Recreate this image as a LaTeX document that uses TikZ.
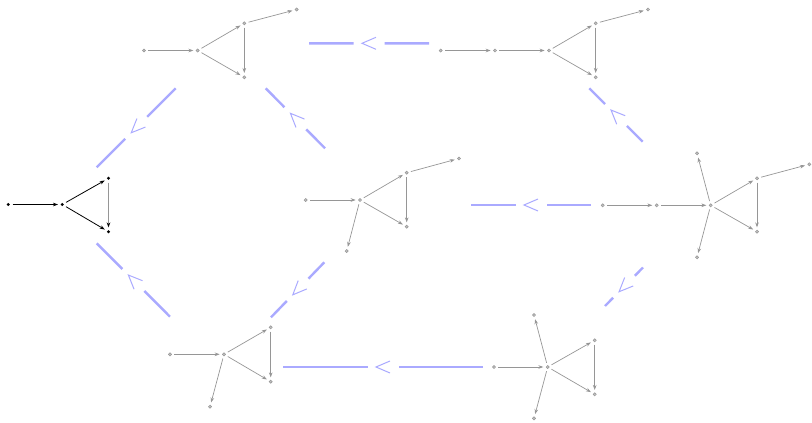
\documentclass[tikz,border=0pt]{standalone}
\usetikzlibrary{calc,arrows.meta}
\definecolor{extblue}{RGB}{170,170,255}
\definecolor{edgegray}{RGB}{150,150,150}
\tikzset{
  gv/.style={circle,inner sep=0pt,minimum size=3.2pt,draw=edgegray,fill=edgegray!60,line width=0.5pt},
  bv/.style={circle,inner sep=0pt,minimum size=3.2pt,fill=black},
  ge/.style={draw=edgegray,line width=0.7pt,-{Stealth[length=5pt,width=3.6pt]},shorten >=2.5pt,shorten <=2.5pt},
  be/.style={draw=black,line width=0.8pt,-{Stealth[length=5pt,width=3.6pt]},shorten >=2.5pt,shorten <=2.5pt},
  bge/.style={draw=edgegray,line width=1.6pt,-{Stealth[length=5pt,width=3.6pt,black]},shorten >=2.5pt,shorten <=2.5pt},
  extline/.style={draw=extblue,line width=2.4pt},
  extchev/.style={draw=extblue,line width=1pt,line join=miter},
}
\newcommand{\extarrow}[2]{%
  \coordinate (mid) at ($(#1)!0.5!(#2)$);
  \draw[extline] (#1) -- ($(mid)!15.5pt!(#1)$);
  \draw[extline] (#2) -- ($(mid)!15.5pt!(#2)$);
  \coordinate (ca) at ($(mid)!7pt!(#1)$);
  \draw[extchev] ($(ca)!6pt!90:(mid)$) -- ($(mid)!7pt!(#2)$) -- ($(ca)!6pt!-90:(mid)$);
}
\begin{document}
\begin{tikzpicture}[x=1pt,y=-1pt]
\useasboundingbox (0,0) rectangle (812,423);
% graph 1 (black)
\node[bv] (a1) at (8.3,204.5) {};
\node[bv] (a2) at (62.3,204.5) {};
\node[bv] (a3) at (108.5,178.3) {};
\node[bv] (a4) at (108.5,231.7) {};
\draw[be] (a1) -- (a2);
\draw[be] (a2) -- (a3);
\draw[be] (a2) -- (a4);
\draw[bge] (a3) -- (a4);
% graph 2
\node[gv] (b1) at (144,50.5) {};
\node[gv] (b2) at (197.7,50.5) {};
\node[gv] (b3) at (244.3,23.3) {};
\node[gv] (b4) at (244.3,77.3) {};
\node[gv] (b5) at (296.7,9.5) {};
\draw[ge] (b1) -- (b2);
\draw[ge] (b2) -- (b3);
\draw[ge] (b2) -- (b4);
\draw[ge] (b3) -- (b4);
\draw[ge] (b3) -- (b5);
% graph 3
\node[gv] (c1) at (440.7,50.5) {};
\node[gv] (c2) at (495,50.5) {};
\node[gv] (c3) at (549,50.5) {};
\node[gv] (c4) at (595.7,23.3) {};
\node[gv] (c5) at (595.7,77.3) {};
\node[gv] (c6) at (648,9.5) {};
\draw[ge] (c1) -- (c2);
\draw[ge] (c2) -- (c3);
\draw[ge] (c3) -- (c4);
\draw[ge] (c3) -- (c5);
\draw[ge] (c4) -- (c5);
\draw[ge] (c4) -- (c6);
% graph 4
\node[gv] (d1) at (305.7,200) {};
\node[gv] (d2) at (360,200) {};
\node[gv] (d3) at (406.7,172.7) {};
\node[gv] (d4) at (406.7,226.7) {};
\node[gv] (d5) at (459,158.5) {};
\node[gv] (d6) at (346.7,251) {};
\draw[ge] (d1) -- (d2);
\draw[ge] (d2) -- (d3);
\draw[ge] (d2) -- (d4);
\draw[ge] (d3) -- (d4);
\draw[ge] (d3) -- (d5);
\draw[ge] (d2) -- (d6);
% graph 5
\node[gv] (e1) at (602.7,205.3) {};
\node[gv] (e2) at (656.7,205.3) {};
\node[gv] (e3) at (710.7,205.3) {};
\node[gv] (e4) at (757,178.3) {};
\node[gv] (e5) at (757,231.7) {};
\node[gv] (e6) at (809.3,164.3) {};
\node[gv] (e7) at (697,153.3) {};
\node[gv] (e8) at (697,257.3) {};
\draw[ge] (e1) -- (e2);
\draw[ge] (e2) -- (e3);
\draw[ge] (e3) -- (e4);
\draw[ge] (e3) -- (e5);
\draw[ge] (e4) -- (e5);
\draw[ge] (e4) -- (e6);
\draw[ge] (e3) -- (e7);
\draw[ge] (e3) -- (e8);
% graph 6
\node[gv] (f1) at (170,354.3) {};
\node[gv] (f2) at (224,354.3) {};
\node[gv] (f3) at (270.7,327.3) {};
\node[gv] (f4) at (270.7,381.7) {};
\node[gv] (f5) at (210,406.7) {};
\draw[ge] (f1) -- (f2);
\draw[ge] (f2) -- (f3);
\draw[ge] (f2) -- (f4);
\draw[ge] (f3) -- (f4);
\draw[ge] (f2) -- (f5);
% graph 7
\node[gv] (g1) at (494,367) {};
\node[gv] (g2) at (547.7,367) {};
\node[gv] (g3) at (594.7,340.3) {};
\node[gv] (g4) at (594.7,394.3) {};
\node[gv] (g5) at (534,315) {};
\node[gv] (g6) at (534,418.3) {};
\draw[ge] (g1) -- (g2);
\draw[ge] (g2) -- (g3);
\draw[ge] (g2) -- (g4);
\draw[ge] (g3) -- (g4);
\draw[ge] (g2) -- (g5);
\draw[ge] (g2) -- (g6);
% extension connectors (big side, small side)
\coordinate (x1b) at (429,43.3);   \coordinate (x1s) at (309,43.3);
\coordinate (x2b) at (175.7,88.3); \coordinate (x2s) at (96.7,167.3);
\coordinate (x3b) at (170,316.7);  \coordinate (x3s) at (96.7,243.3);
\coordinate (x4b) at (325,148.3);  \coordinate (x4s) at (265.7,88.3);
\coordinate (x5b) at (324.3,262.3);\coordinate (x5s) at (271,317.3);
\coordinate (x6b) at (642.7,141.7);\coordinate (x6s) at (589.3,88.3);
\coordinate (x7b) at (591,205);    \coordinate (x7s) at (471,205);
\coordinate (x8b) at (643,267.5);  \coordinate (x8s) at (605,306);
\coordinate (x9b) at (483,367);    \coordinate (x9s) at (283,367);
\extarrow{x1b}{x1s}
\extarrow{x2b}{x2s}
\extarrow{x3b}{x3s}
\extarrow{x4b}{x4s}
\extarrow{x5b}{x5s}
\extarrow{x6b}{x6s}
\extarrow{x7b}{x7s}
\extarrow{x8b}{x8s}
\extarrow{x9b}{x9s}
\end{tikzpicture}
\end{document}
